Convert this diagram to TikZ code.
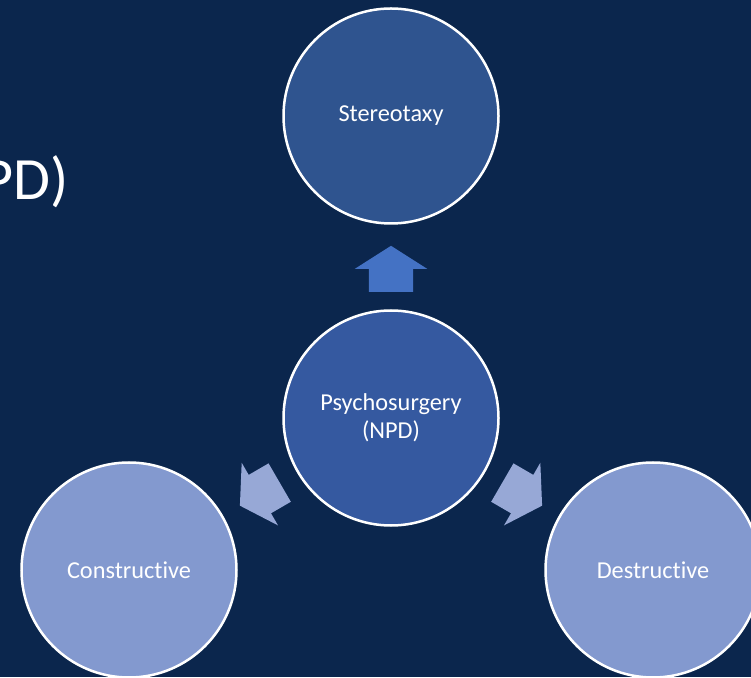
\documentclass[tikz,border=0pt]{standalone}
\usepackage{fontspec}
\setmainfont{Carlito}[Ligatures=NoCommon]
\usetikzlibrary{shapes.arrows}

\definecolor{slidebg}{HTML}{0B264D}
\definecolor{darkblob}{HTML}{2F548F}
\definecolor{midblob}{HTML}{3559A0}
\definecolor{lightblob}{HTML}{8399CF}
\definecolor{uparrow}{HTML}{4472C4}
\definecolor{sidearrow}{HTML}{97A8D6}

\begin{document}
\begin{tikzpicture}[x=1pt, y=1pt,
  bubble/.style={circle, draw=white, line width=2.5pt, minimum size=215pt,
    inner sep=0pt, text=white, align=center,
    font=\fontsize{24.3}{28.5}\selectfont},
  fatarrow/.style={single arrow, minimum height=46pt, minimum width=72pt,
    single arrow head extend=14pt, single arrow tip angle=115,
    inner xsep=0pt, inner ysep=22pt, sloped, allow upside down}]
  \fill[slidebg] (0,0) rectangle (751,677);
  \clip (0,0) rectangle (751,677);

  \node[anchor=base east, text=white, font=\fontsize{60}{72}\selectfont]
    (title) at (72,477) {PD)};

  \node[bubble, fill=midblob] (psy) at (391,259) {Psychosurgery\\(NPD)};
  \node[bubble, fill=darkblob] (ster) at (391,561) {Stereotaxy};
  \node[bubble, fill=lightblob] (cons) at (129,107) {Constructive};
  \node[bubble, fill=lightblob] (dest) at (653,107) {Destructive};

  \path (psy) -- (ster) node[fatarrow, fill=uparrow, pos=0.395] (a1) {};
  \path (psy) -- (cons) node[fatarrow, fill=sidearrow, pos=0.42] (a2) {};
  \path (psy) -- (dest) node[fatarrow, fill=sidearrow, pos=0.42] (a3) {};
\end{tikzpicture}
\end{document}
